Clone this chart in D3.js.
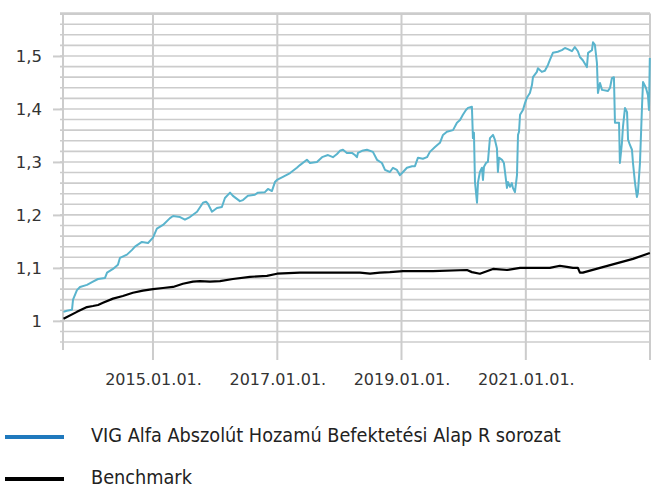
<!DOCTYPE html>
<html>
<head>
<meta charset="utf-8">
<script src="https://cdn.jsdelivr.net/npm/d3@7"></script>
<style>
    body { margin: 0; background: #fff; }
    svg { display: block; }
</style>
</head>
<body>
<div id="chart"></div>
<script>
// Values
const vigDates = [
    '2013-07-24', '2013-08-13', '2013-09-12', '2013-09-18', '2013-10-11', '2013-10-29', '2013-12-09',
    '2014-01-13', '2014-02-12', '2014-03-25', '2014-04-06', '2014-05-11', '2014-06-09', '2014-06-21',
    '2014-08-01', '2014-08-31', '2014-09-17', '2014-10-28', '2014-12-03',
    '2015-01-01', '2015-01-24', '2015-03-01', '2015-04-11', '2015-04-29', '2015-06-09', '2015-07-08',
    '2015-08-06', '2015-09-17', '2015-10-22', '2015-11-09', '2015-11-20', '2015-12-14',
    '2016-01-12', '2016-02-10', '2016-02-28', '2016-03-29', '2016-04-15', '2016-05-26', '2016-06-13',
    '2016-07-12', '2016-08-22', '2016-09-09', '2016-10-20', '2016-11-07', '2016-11-30', '2016-12-18', '2016-12-30',
    '2017-02-03', '2017-03-17', '2017-04-26', '2017-05-14', '2017-06-24', '2017-07-12', '2017-08-22',
    '2017-09-21', '2017-10-26', '2017-11-24', '2017-12-18',
    '2018-01-04', '2018-01-22', '2018-02-14', '2018-03-16', '2018-04-02', '2018-04-14', '2018-04-20',
    '2018-05-14', '2018-06-12', '2018-07-17', '2018-08-10', '2018-09-08', '2018-09-26', '2018-10-25',
    '2018-11-12', '2018-12-05', '2018-12-23',
    '2019-01-10', '2019-02-02', '2019-03-04', '2019-03-21', '2019-04-08', '2019-05-07', '2019-05-31',
    '2019-06-17', '2019-07-17', '2019-08-15', '2019-09-02', '2019-09-25', '2019-10-31', '2019-11-23',
    '2019-12-11', '2019-12-28',
    '2020-01-15', '2020-01-27', '2020-02-19', '2020-02-25', '2020-03-02', '2020-03-08', '2020-03-20',
    '2020-03-26', '2020-04-06', '2020-04-18', '2020-04-24', '2020-04-30', '2020-05-12', '2020-05-23',
    '2020-06-04', '2020-06-22', '2020-07-03', '2020-07-15', '2020-07-21', '2020-07-27', '2020-08-14',
    '2020-08-25', '2020-09-12', '2020-09-18', '2020-09-30', '2020-10-11', '2020-10-17', '2020-10-29',
    '2020-11-10', '2020-11-16', '2020-11-22', '2020-11-28', '2020-12-15', '2020-12-27',
    '2021-01-07', '2021-01-25', '2021-02-06', '2021-02-12', '2021-03-07', '2021-03-13', '2021-04-05',
    '2021-04-23', '2021-05-11', '2021-05-22', '2021-06-09', '2021-07-08', '2021-08-01', '2021-08-19',
    '2021-09-05', '2021-09-29', '2021-10-16', '2021-11-03', '2021-11-15', '2021-12-02', '2021-12-26',
    '2022-01-02', '2022-01-25', '2022-01-31', '2022-02-11', '2022-02-23', '2022-03-01', '2022-03-13',
    '2022-03-25', '2022-04-29', '2022-05-11', '2022-05-22', '2022-06-03', '2022-06-09', '2022-07-03',
    '2022-07-08', '2022-07-20', '2022-07-26', '2022-08-07', '2022-08-19', '2022-08-25', '2022-09-05',
    '2022-09-17', '2022-09-23', '2022-10-05', '2022-10-16', '2022-10-22', '2022-11-03', '2022-11-15',
    '2022-11-21', '2022-12-08', '2022-12-20', '2022-12-26', '2022-12-31'
];
const vigValues = [
    1.017, 1.019, 1.021, 1.040, 1.058, 1.064, 1.068,
    1.074, 1.079, 1.081, 1.091, 1.098, 1.106, 1.119,
    1.125, 1.134, 1.140, 1.149, 1.147,
    1.157, 1.174, 1.181, 1.194, 1.198, 1.196, 1.191,
    1.196, 1.206, 1.223, 1.225, 1.221, 1.206,
    1.213, 1.215, 1.232, 1.242, 1.236, 1.226, 1.228,
    1.236, 1.238, 1.242, 1.243, 1.249, 1.245, 1.262, 1.266,
    1.272, 1.279, 1.289, 1.294, 1.304, 1.298, 1.300,
    1.309, 1.313, 1.309, 1.315,
    1.321, 1.323, 1.317, 1.317, 1.313, 1.309, 1.317,
    1.321, 1.323, 1.319, 1.304, 1.298, 1.285, 1.281,
    1.289, 1.285, 1.275,
    1.281, 1.289, 1.292, 1.292, 1.308, 1.306, 1.309,
    1.319, 1.328, 1.336, 1.351, 1.357, 1.360, 1.374,
    1.379, 1.389,
    1.398, 1.402, 1.404, 1.345, 1.355, 1.262, 1.223,
    1.262, 1.281, 1.289, 1.266, 1.291, 1.298, 1.300,
    1.345, 1.351, 1.342, 1.326, 1.281, 1.308, 1.304,
    1.298, 1.251, 1.262, 1.253, 1.260, 1.251, 1.243,
    1.275, 1.351, 1.357, 1.389, 1.398, 1.411,
    1.421, 1.430, 1.445, 1.460, 1.470, 1.477, 1.470,
    1.472, 1.483, 1.492, 1.506, 1.508, 1.511, 1.515,
    1.513, 1.509, 1.517, 1.509, 1.498, 1.492, 1.479,
    1.506, 1.511, 1.526, 1.521, 1.487, 1.430, 1.449,
    1.436, 1.434, 1.440, 1.458, 1.460, 1.374, 1.374,
    1.298, 1.336, 1.366, 1.402, 1.394, 1.342, 1.332,
    1.323, 1.298, 1.260, 1.234, 1.242, 1.298, 1.404,
    1.451, 1.440, 1.426, 1.398, 1.496
];
const benchDates = [
    '2013-07-24', '2013-10-11', '2013-12-09', '2014-01-13', '2014-02-12', '2014-03-13', '2014-05-11',
    '2014-07-08', '2014-09-05', '2014-11-03', '2015-01-01', '2015-03-01', '2015-04-29', '2015-06-26',
    '2015-08-24', '2015-10-04', '2015-12-02', '2016-01-30', '2016-04-15', '2016-07-24', '2016-11-01',
    '2016-12-30', '2017-05-14', '2017-11-24', '2018-05-02', '2018-06-30', '2018-08-27', '2018-10-25',
    '2019-01-10', '2019-07-05', '2020-01-21', '2020-02-19', '2020-04-06', '2020-06-22', '2020-09-12',
    '2020-11-28', '2021-02-12', '2021-05-22', '2021-07-20', '2021-08-30', '2021-10-05', '2021-11-03',
    '2021-11-15', '2021-12-02', '2022-03-13', '2022-09-23', '2022-12-31'
];
const benchValues = [
    1.004, 1.017, 1.026, 1.028, 1.030, 1.034, 1.042,
    1.047, 1.053, 1.057, 1.060, 1.062, 1.064, 1.070,
    1.074, 1.075, 1.074, 1.075, 1.079, 1.083, 1.085,
    1.089, 1.091, 1.091, 1.091, 1.089, 1.091, 1.092,
    1.094, 1.094, 1.096, 1.092, 1.089, 1.098, 1.096,
    1.100, 1.100, 1.100, 1.104, 1.102, 1.100, 1.100,
    1.091, 1.091, 1.100, 1.117, 1.128
];
const xTickDates = ['2015-01-01', '2017-01-01', '2019-01-01', '2021-01-01', '2023-01-01'];
const xTickLabels = ['2015.01.01.', '2017.01.01.', '2019.01.01.', '2021.01.01.', ''];
const yTickValues = [1, 1.1, 1.2, 1.3, 1.4, 1.5];
const yTickLabels = ['1', '1,1', '1,2', '1,3', '1,4', '1,5'];
const seriesNames = ['VIG Alfa Abszolút Hozamú Befektetési Alap R sorozat', 'Benchmark'];

const drawChart = () => {
    const width = 651, height = 489;
    const plot = { left: 63, right: 650, top: 13.6, bottom: 350 };
    const gridColor = '#cccccc';
    const parse = d3.timeParse('%Y-%m-%d');

    const svg = d3.select('#chart')
        .append('svg')
        .attr('width', width)
        .attr('height', height);

    const x = d3.scaleTime()
        .domain([parse('2013-07-21'), parse('2023-01-01')])
        .range([plot.left, plot.right]);
    const y = d3.scaleLinear()
        .domain([0.945, 1.58])
        .range([plot.bottom, plot.top]);

    // minor grid every 0.02
    const minor = d3.range(48, 80).map(k => +(k * 0.02).toFixed(2));
    svg.append('g')
        .selectAll('line')
        .data(minor)
        .join('line')
        .attr('x1', plot.left - 3)
        .attr('x2', plot.right)
        .attr('y1', d => y(d))
        .attr('y2', d => y(d))
        .attr('stroke', gridColor)
        .attr('stroke-width', d => d === 1.58 ? 2.6 : 1.6);

    // vertical grid + bottom ticks
    svg.append('g')
        .selectAll('line')
        .data(xTickDates)
        .join('line')
        .attr('x1', d => x(parse(d)))
        .attr('x2', d => x(parse(d)))
        .attr('y1', plot.top)
        .attr('y2', plot.bottom + 10)
        .attr('stroke', gridColor)
        .attr('stroke-width', 2);

    // left axis line
    svg.append('line')
        .attr('x1', plot.left).attr('x2', plot.left)
        .attr('y1', plot.top).attr('y2', plot.bottom)
        .attr('stroke', gridColor)
        .attr('stroke-width', 2);

    const yAxis = svg.append('g')
        .attr('transform', `translate(${plot.left},0)`)
        .call(d3.axisLeft(y)
            .tickValues(yTickValues)
            .tickFormat((d, i) => yTickLabels[i])
            .tickSize(10)
            .tickPadding(11));
    yAxis.select('.domain').remove();
    yAxis.selectAll('line').attr('stroke', gridColor).attr('stroke-width', 2);
    yAxis.selectAll('text')
        .attr('fill', '#333')
        .attr('font-family', 'DejaVu Sans, Verdana, sans-serif')
        .attr('font-size', '16.5px');

    const xAxis = svg.append('g')
        .attr('transform', `translate(0,${plot.bottom})`)
        .call(d3.axisBottom(x)
            .tickValues(xTickDates.map(parse))
            .tickFormat((d, i) => xTickLabels[i])
            .tickSize(0)
            .tickPadding(24));
    xAxis.select('.domain').remove();
    xAxis.selectAll('text')
        .attr('fill', '#333')
        .attr('font-family', 'DejaVu Sans, Verdana, sans-serif')
        .attr('font-size', '16px');

    const line = d3.line()
        .x(d => x(d.date))
        .y(d => y(d.value));

    const vig = vigDates.map((d, i) => ({ date: parse(d), value: vigValues[i] }));
    const bench = benchDates.map((d, i) => ({ date: parse(d), value: benchValues[i] }));

    svg.append('path')
        .datum(bench)
        .attr('fill', 'none')
        .attr('stroke', '#000')
        .attr('stroke-width', 2.2)
        .attr('stroke-linejoin', 'round')
        .attr('d', line);

    svg.append('path')
        .datum(vig)
        .attr('fill', 'none')
        .attr('stroke', '#5ab4cd')
        .attr('stroke-width', 2)
        .attr('stroke-linejoin', 'round')
        .attr('d', line);

    // Legend
    const legend = svg.append('g')
        .selectAll('g')
        .data(seriesNames)
        .join('g')
        .attr('transform', (d, i) => `translate(0,${437 + i * 42})`);
    legend.append('line')
        .attr('x1', 5).attr('x2', 64)
        .attr('stroke', (d, i) => i === 0 ? '#1f79bd' : '#000')
        .attr('stroke-width', 4);
    legend.append('text')
        .attr('x', 91)
        .attr('y', 4.5)
        .text(d => d)
        .attr('fill', '#222')
        .attr('font-family', 'DejaVu Sans Condensed, DejaVu Sans, sans-serif')
        .attr('font-stretch', 'condensed')
        .attr('font-size', '19.7px');
};

document.addEventListener('DOMContentLoaded', drawChart);
</script>
</body>
</html>
